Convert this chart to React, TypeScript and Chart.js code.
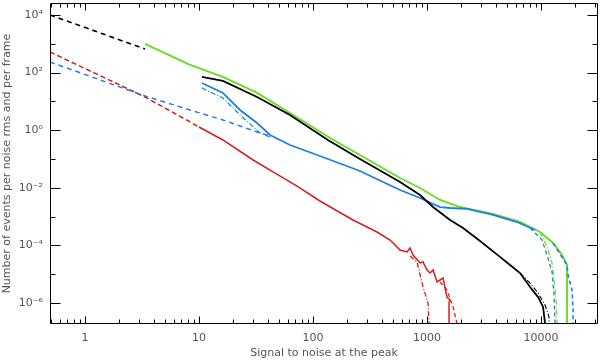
import React, { useEffect, useRef } from "react";
import { Chart, registerables } from "chart.js";

Chart.register(...registerables);

// ---- axis / tick data ----
const xTickValues = [1, 10, 100, 1000, 10000];
const xTickLabels = ["1", "10", "100", "1000", "10000"];
const yTickValues = [1e4, 1e2, 1, 1e-2, 1e-4, 1e-6];
const yTickLabels = ["10⁴", "10²", "10⁰", "10⁻²", "10⁻⁴", "10⁻⁶"];
const xTitle = "Signal to noise at the peak";
const yTitle = "Number of events per noise rms and per frame";
const xMin = 0.493;
const xMax = 31600;
const yMin = 1.87e-7;
const yMax = 2.6e4;

// ---- series ----
const blackExtrapX = [0.493, 3.36];
const blackExtrapY = [1.0e4, 659];

const blackX = [10.6, 16.2, 32.3, 62.8, 135, 258, 580, 868, 1129, 1592, 2070, 2917, 4365, 5345, 6546, 8011, 9418, 10420, 10840, 10840];
const blackY = [70.4, 51.1, 14.2, 3.37, 0.457, 0.1, 0.0159, 0.00562, 0.00215, 7.62e-4, 4.02e-4, 1.42e-4, 4.0e-5, 2.09e-5, 1.1e-5, 3.6e-6, 1.61e-6, 7.3e-7, 2e-7, 1e-8];

const blackTailX = [6546, 8011, 9418, 10840, 11750, 11750];
const blackTailY = [1.1e-5, 4.9e-6, 2.22e-6, 8.5e-7, 3.3e-7, 1e-8];

const greenX = [3.36, 8.34, 16.2, 32.3, 62.8, 141, 258, 580, 868, 1300, 1946, 3793, 6546, 9800, 12740, 15300, 16900, 16900];
const greenY = [984, 184, 70.4, 19.6, 3.95, 0.536, 0.138, 0.0219, 0.00984, 0.00377, 0.00215, 0.00123, 6.49e-4, 2.92e-4, 1.21e-4, 4.64e-5, 2.09e-5, 1e-8];

const greenTailX = [9800, 11290, 12480, 13000, 13540, 13810, 13810];
const greenTailY = [2.92e-4, 8.8e-5, 2.45e-5, 6.3e-6, 1.27e-6, 2e-7, 1e-8];

const blueExtrapX = [0.493, 3.36, 8.34, 16.2, 32.3, 42.0];
const blueExtrapY = [233, 15.4, 5.03, 2.26, 0.865, 0.629];

const blueX = [10.6, 16.2, 22.9, 32.3, 42.0, 62.8, 115, 258, 580, 868, 1300, 1592, 2244, 3793, 6152, 8860];
const blueY = [43.5, 19.6, 5.03, 1.78, 0.681, 0.306, 0.127, 0.0383, 0.00839, 0.00443, 0.00215, 0.00199, 0.00184, 0.00114, 6.49e-4, 3.43e-4];

const blueAltX = [10.6, 16.2, 22.9, 34.3, 42.0];
const blueAltY = [29.2, 13.1, 3.37, 0.8, 0.581];

const blueTailAX = [8011, 10200, 11510, 12480, 13000, 13270, 13270];
const blueTailAY = [4.02e-4, 1.54e-4, 3.65e-5, 1.19e-5, 1.9e-6, 2e-7, 1e-8];

const blueTailBX = [12740, 16900, 17260, 18700, 19100, 19100];
const blueTailBY = [1.21e-4, 2.09e-5, 9.4e-6, 2.83e-6, 5.7e-7, 1e-8];

const redExtrapX = [0.493, 3.36, 8.34, 10];
const redExtrapY = [519, 14.2, 1.93, 1.29];

const redX = [10, 16.2, 29.8, 44.6, 72.4, 115, 224, 364, 474, 580, 668, 709, 754, 868, 923, 1000, 1062, 1129, 1224, 1300, 1381, 1497, 1592, 1560, 1560];
const redY = [1.29, 0.457, 0.0923, 0.0354, 0.0115, 0.00348, 7.62e-4, 2.92e-4, 1.54e-4, 6.92e-5, 5.9e-5, 8.1e-5, 4.64e-5, 2.45e-5, 2.65e-5, 1.4e-5, 1.1e-5, 1.4e-5, 5.4e-6, 6.3e-6, 7.4e-6, 1.61e-6, 1.27e-6, 1.08e-6, 1e-8];

const redTailAX = [709, 817, 923, 1021, 1042, 1042];
const redTailAY = [4.28e-5, 2.65e-5, 3.6e-6, 1e-6, 2e-7, 1e-8];

const redTailBX = [1300, 1497, 1690, 1833, 1833];
const redTailBY = [5.4e-6, 2.83e-6, 7.3e-7, 2e-7, 1e-8];

// ---- styles ----
const BLACK = "#000000";
const GREEN = "#66dd22";
const BLUE = "#1f80e0";
const RED = "#d81c1c";
const TEXT = "#555555";
const FONT = '11px "DejaVu Sans", sans-serif';

const pts = (xs: number[], ys: number[]) => xs.map((x, i) => ({ x, y: ys[i] }));

const line = (label: string, xs: number[], ys: number[], color: string, width: number, dash: number[] = []) => ({
  label,
  data: pts(xs, ys),
  borderColor: color,
  backgroundColor: color,
  borderWidth: width,
  borderDash: dash,
  pointRadius: 0,
  tension: 0,
  fill: false,
  clip: 0,
});

const axesPlugin = {
  id: "idlAxes",
  afterDatasetsDraw(chart: any) {
    const { ctx, chartArea: a } = chart;
    const xs = chart.scales.x;
    const ys = chart.scales.y;
    const L = Math.round(a.left) + 0.5;
    const R = Math.round(a.right) - 0.5;
    const T = Math.round(a.top) + 0.5;
    const B = Math.round(a.bottom) - 0.5;
    ctx.save();
    ctx.strokeStyle = "#000";
    ctx.lineWidth = 1;
    ctx.beginPath();
    ctx.rect(L, T, R - L, B - T);
    for (let e = -1; e <= 4; e++) {
      for (let k = 1; k <= 9; k++) {
        const v = k * Math.pow(10, e);
        if (v < xs.min || v > xs.max) continue;
        const p = Math.round(xs.getPixelForValue(v)) + 0.5;
        const len = k === 1 ? 7 : 4;
        ctx.moveTo(p, B);
        ctx.lineTo(p, B - len);
        ctx.moveTo(p, T);
        ctx.lineTo(p, T + len);
      }
    }
    for (let e = -7; e <= 5; e++) {
      const v = Math.pow(10, e);
      if (v < ys.min || v > ys.max) continue;
      const p = Math.round(ys.getPixelForValue(v)) + 0.5;
      const len = Math.abs(e % 2) === 0 ? 10 : 5;
      ctx.moveTo(L, p);
      ctx.lineTo(L + len, p);
      ctx.moveTo(R, p);
      ctx.lineTo(R - len, p);
    }
    ctx.stroke();

    ctx.fillStyle = TEXT;
    ctx.font = FONT;
    ctx.textAlign = "center";
    ctx.textBaseline = "middle";
    xTickValues.forEach((v, i) => {
      ctx.fillText(xTickLabels[i], xs.getPixelForValue(v), a.bottom + 14);
    });
    ctx.textAlign = "right";
    yTickValues.forEach((v, i) => {
      ctx.fillText(yTickLabels[i], a.left - 7, ys.getPixelForValue(v));
    });
    ctx.textAlign = "center";
    ctx.fillText(xTitle, (a.left + a.right) / 2, a.bottom + 29);
    ctx.translate(7, (a.top + a.bottom) / 2);
    ctx.rotate(-Math.PI / 2);
    ctx.fillText(yTitle, 0, 0);
    ctx.restore();
  },
};

export default function App() {
  const ref = useRef<HTMLCanvasElement | null>(null);

  useEffect(() => {
    document.body.style.margin = "0";
    const canvas = ref.current;
    if (!canvas) return;
    const chart = new Chart(canvas, {
      type: "line",
      data: {
        datasets: [
          line("black", blackX, blackY, BLACK, 1.8),
          line("black tail", blackTailX, blackTailY, BLACK, 1.1, [5, 2, 1, 2]),
          line("black extrapolation", blackExtrapX, blackExtrapY, BLACK, 1.6, [5, 4]),
          line("blue", blueX, blueY, BLUE, 1.8),
          line("blue alt", blueAltX, blueAltY, BLUE, 1.2, [5, 2, 1, 2]),
          line("blue tail A", blueTailAX, blueTailAY, BLUE, 1.3, [4, 3]),
          line("blue tail B", blueTailBX, blueTailBY, BLUE, 1.6, [4, 3]),
          line("blue extrapolation", blueExtrapX, blueExtrapY, BLUE, 1.5, [5, 4]),
          line("green", greenX, greenY, GREEN, 1.9),
          line("green tail", greenTailX, greenTailY, GREEN, 1.3, [5, 2, 1, 2]),
          line("red", redX, redY, RED, 1.5),
          line("red tail A", redTailAX, redTailAY, RED, 1.3, [5, 2, 1, 2]),
          line("red tail B", redTailBX, redTailBY, RED, 1.3, [4, 3]),
          line("red extrapolation", redExtrapX, redExtrapY, RED, 1.5, [5, 3]),
        ],
      },
      options: {
        responsive: false,
        animation: false,
        devicePixelRatio: 1,
        parsing: false,
        normalized: true,
        layout: { padding: { left: 0, right: 2, top: 3, bottom: 0 } },
        plugins: { legend: { display: false }, tooltip: { enabled: false } },
        scales: {
          x: {
            type: "logarithmic",
            min: xMin,
            max: xMax,
            grid: { display: false, drawTicks: false },
            border: { display: false },
            ticks: { display: false },
            afterFit: (s: any) => {
              s.height = 37;
            },
          },
          y: {
            type: "logarithmic",
            min: yMin,
            max: yMax,
            grid: { display: false, drawTicks: false },
            border: { display: false },
            ticks: { display: false },
            afterFit: (s: any) => {
              s.width = 50;
            },
          },
        },
      } as any,
      plugins: [axesPlugin],
    });
    return () => chart.destroy();
  }, []);

  return <canvas ref={ref} width={600} height={361} style={{ display: "block" }} />;
}
